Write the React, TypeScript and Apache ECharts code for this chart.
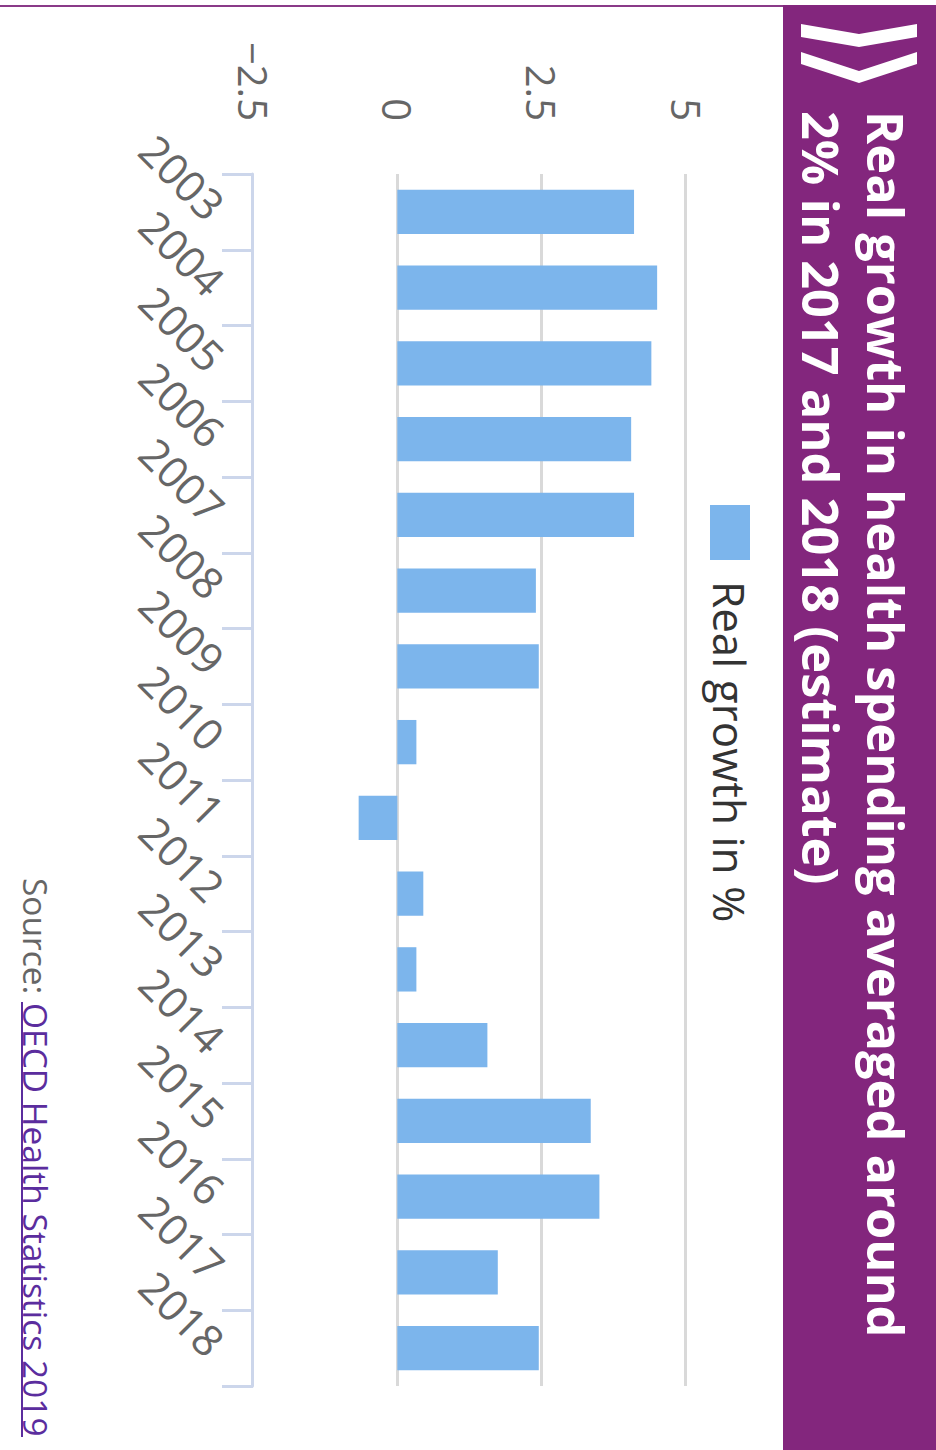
import React, { useEffect, useRef } from 'react';
import * as echarts from 'echarts';

// ---- data ----
const years = ['2003', '2004', '2005', '2006', '2007', '2008', '2009', '2010', '2011', '2012', '2013', '2014', '2015', '2016', '2017', '2018'];
const growth = [4.1, 4.5, 4.4, 4.05, 4.1, 2.4, 2.45, 0.33, -0.67, 0.45, 0.33, 1.56, 3.35, 3.5, 1.74, 2.45];
const seriesName = 'Real growth in %';
const titleLines = ['Real growth in health spending averaged around', '2% in 2017 and 2018 (estimate)'];
const sourceLabel = 'Source: ';
const sourceLink = 'OECD Health Statistics 2019';
const valueMin = -2.5;
const valueMax = 5;
const valueStep = 2.5;

// chart is drawn landscape then turned a quarter clockwise
const W = 1450;
const H = 936;
const FONT = "'Open Sans', 'Noto Sans', sans-serif";

export default function App() {
  const ref = useRef<HTMLDivElement>(null);
  useEffect(() => {
    const chart = echarts.init(ref.current!, null, { renderer: 'svg', width: W, height: H });
    chart.setOption({
      animation: false,
      backgroundColor: '#ffffff',
      textStyle: { fontFamily: FONT },
      title: {
        text: titleLines.join('\n'),
        left: 111,
        top: 17,
        padding: 0,
        textStyle: { color: '#ffffff', fontSize: 50.5, fontWeight: 'bold', lineHeight: 65, fontFamily: FONT },
      },
      legend: {
        data: [seriesName],
        left: 505,
        top: 184,
        padding: 0,
        itemWidth: 55,
        itemHeight: 40,
        icon: 'rect',
        selectedMode: false,
        textStyle: { fontSize: 44, color: '#333333', fontFamily: FONT, padding: [0, 0, 0, 16] },
      },
      grid: { left: 174, right: 64, top: 250, bottom: 253, containLabel: false },
      xAxis: {
        type: 'category',
        data: years,
        z: 5,
        axisLine: { show: true, onZero: false, lineStyle: { color: '#ccd6eb', width: 3 } },
        axisTick: { show: true, alignWithLabel: false, interval: 0, inside: false, length: 31, lineStyle: { color: '#ccd6eb', width: 3 } },
        axisLabel: { interval: 0, rotate: 45, fontSize: 43, color: '#666666', margin: 36, fontFamily: FONT },
      },
      yAxis: {
        type: 'value',
        min: valueMin,
        max: valueMax,
        interval: valueStep,
        axisLine: { show: false },
        axisTick: { show: false },
        splitLine: { lineStyle: { color: '#d9d9d9', width: 3 } },
        axisLabel: {
          fontSize: 40,
          color: '#666666',
          margin: 53,
          fontFamily: FONT,
          formatter: (v: number) => String(v).replace('-', '\u2212'),
        },
      },
      series: [
        {
          type: 'bar',
          name: seriesName,
          data: growth,
          barCategoryGap: '41.5%',
          itemStyle: { color: '#7cb5ec' },
        },
      ],
      graphic: [
        { type: 'rect', shape: { x: 5, y: 0, width: W - 5, height: 153 }, style: { fill: '#83267d' }, silent: true },
        { type: 'rect', shape: { x: 5, y: 153, width: 2, height: H - 153 }, style: { fill: '#8a3a88' }, silent: true },
        {
          type: 'polygon',
          shape: { points: [[24, 19], [37, 19], [47, 77], [37, 135], [24, 135], [34, 77]] },
          style: { fill: '#ffffff' },
          silent: true,
        },
        {
          type: 'polygon',
          shape: { points: [[52, 19], [64, 19], [83, 77], [64, 135], [52, 135], [71, 77]] },
          style: { fill: '#ffffff' },
          silent: true,
        },
        {
          type: 'text',
          x: 1003,
          y: 900,
          style: { text: sourceLabel, align: 'right', verticalAlign: 'middle', textAlign: 'right', textVerticalAlign: 'middle', fontSize: 33.5, fontFamily: FONT, fill: '#666666' },
          silent: true,
        },
        {
          type: 'text',
          x: 1003,
          y: 900,
          style: { text: sourceLink, align: 'left', verticalAlign: 'middle', textAlign: 'left', textVerticalAlign: 'middle', fontSize: 33.5, fontFamily: FONT, fill: '#5b2d9e' },
          silent: true,
        },
        {
          type: 'line',
          shape: { x1: 1002, y1: 914, x2: 1437, y2: 914 },
          style: { stroke: '#5b2d9e', lineWidth: 2 },
          silent: true,
        },
      ],
    });
    return () => chart.dispose();
  }, []);
  return (
    <div style={{ position: 'fixed', left: 0, top: 0, width: H, height: W, overflow: 'hidden', background: '#ffffff' }}>
      <div
        style={{
          position: 'absolute',
          left: 0,
          top: 0,
          width: W,
          height: H,
          transformOrigin: '0 0',
          transform: `translate(${H}px, 0px) rotate(90deg)`,
        }}
      >
        <div ref={ref} style={{ width: W, height: H }} />
      </div>
    </div>
  );
}
